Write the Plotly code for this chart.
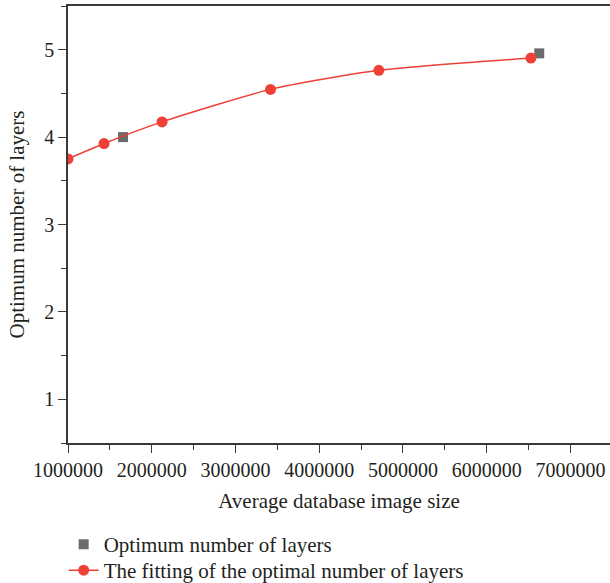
import plotly.graph_objects as go

# Data
opt_x = [1657000, 6627000]
opt_y = [4.0, 4.958]

fit_x = [1000000, 1430000, 2123000, 3418000, 4712000, 6528000]
fit_y = [3.75, 3.926, 4.174, 4.546, 4.764, 4.905]

x_ticks = [1000000, 2000000, 3000000, 4000000, 5000000, 6000000, 7000000]
y_ticks = [1, 2, 3, 4, 5]

FONT = "Liberation Serif"
AX = "#3a3a3a"
RED = "#ee4036"
GRAY = "#6b6b6b"
TXT = "#231f20"

fig = go.Figure()
fig.add_trace(go.Scatter(
    x=opt_x, y=opt_y, mode="markers", name="Optimum number of layers",
    marker=dict(symbol="square", size=10, color=GRAY), legend="legend",
))
fig.add_trace(go.Scatter(
    x=fit_x, y=fit_y, mode="lines+markers",
    name="The fitting of the optimal number of layers",
    line=dict(color=RED, width=1.5, shape="spline", smoothing=0.6),
    marker=dict(symbol="circle", size=11, color=RED), legend="legend2",
))

leg_common = dict(
    x=-0.008, xanchor="left", yanchor="top",
    bgcolor="rgba(0,0,0,0)", font=dict(family=FONT, size=21, color=TXT),
    itemwidth=30,
)

fig.update_layout(
    width=610, height=583,
    margin=dict(l=68, r=0, t=6, b=140, autoexpand=False),
    paper_bgcolor="white", plot_bgcolor="white",
    font=dict(family=FONT, size=20, color=TXT),
    showlegend=True,
    legend=dict(y=-0.1855, **leg_common),
    legend2=dict(y=-0.245, **leg_common),
    xaxis=dict(
        range=[1000000, 7472000], tickvals=x_ticks,
        ticktext=[str(v) for v in x_ticks],
        showgrid=False, zeroline=False, automargin=False,
        showline=True, linecolor=AX, linewidth=1.6, mirror=True,
        ticks="outside", ticklen=8, tickwidth=1.3, tickcolor=AX,
        minor=dict(ticks="outside", ticklen=5, tickwidth=1.3, tickcolor=AX,
                   dtick=500000, tick0=0, showgrid=False),
        title=dict(text="Average database image size", standoff=14,
                   font=dict(family=FONT, size=21, color=TXT)),
        tickfont=dict(family=FONT, size=20, color=TXT),
    ),
    yaxis=dict(
        range=[0.5, 5.5], tickvals=y_ticks,
        showgrid=False, zeroline=False, automargin=False,
        showline=True, linecolor=AX, linewidth=1.6, mirror=False,
        ticks="outside", ticklen=8, tickwidth=1.3, tickcolor=AX,
        minor=dict(ticks="outside", ticklen=5, tickwidth=1.3, tickcolor=AX,
                   dtick=0.5, tick0=0, showgrid=False),
        title=dict(text="Optimum number of layers", standoff=14,
                   font=dict(family=FONT, size=21, color=TXT)),
        tickfont=dict(family=FONT, size=20, color=TXT),
    ),
)

fig.write_html("out.html")
